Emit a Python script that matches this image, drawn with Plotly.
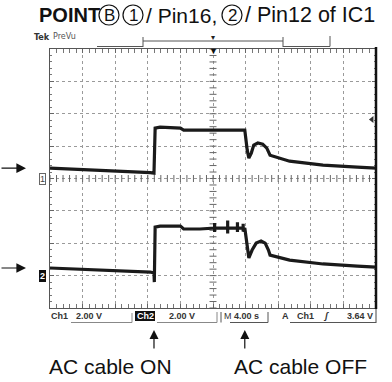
import plotly.graph_objects as go

# ---------------- data ----------------
# time in seconds (4 s/div, 10 div), voltage in volts (2 V/div)
ch1_t = [0, 6.1, 12.3, 12.76, 12.9, 13.5, 15.3, 16.0, 16.4, 18.4, 20.0, 22.1, 23.9,
         24.2, 24.4, 24.7, 25.0, 25.5, 26.1, 26.6, 27.0, 29.4, 33.5, 37.7, 40.0]
ch1_v = [0.64, 0.52, 0.36, 0.33, 3.11, 3.17, 3.14, 3.11, 2.99, 2.99, 3.02, 2.99, 2.99,
         1.75, 1.26, 1.57, 2.06, 2.19, 2.12, 1.88, 1.44, 1.07, 0.83, 0.70, 0.64]

ch2_t = [0, 6.1, 12.3, 12.76, 12.8, 12.9, 13.5, 16.0, 16.4, 18.4, 20.0,
         20.2, 20.2, 20.2, 20.2, 21.8, 21.8, 21.8, 21.8, 23.0, 23.0, 23.0, 23.0,
         23.7, 23.7, 23.7, 23.9,
         24.2, 24.4, 24.8, 25.3, 25.9, 26.4, 26.8, 27.0, 29.4, 33.5, 37.7, 40.0]
ch2_v = [0.47, 0.35, 0.22, 0.16, -0.40, 3.00, 3.06, 3.06, 2.88, 2.88, 2.94,
         2.94, 3.25, 2.70, 2.94, 2.94, 3.40, 2.60, 2.94, 2.94, 3.30, 2.70, 2.94,
         2.94, 3.20, 2.72, 2.94,
         1.70, 1.09, 1.58, 2.01, 2.14, 2.01, 1.58, 1.27, 0.96, 0.72, 0.59, 0.53]

trigger_level = 3.64
status_labels = ["Ch1", "2.00 V", "Ch2", "2.00 V", "M", "4.00 s", "A", "Ch1", "ʃ", "3.64 V"]
event_labels = ["AC cable ON", "AC cable OFF"]

# ---------------- geometry helpers (pixel -> paper) ----------------
W, H = 392, 382
L, R, T, B = 50, 16, 49, 74
PW, PH = W - L - R, H - T - B


def X(px):
    return (px - L) / PW


def Y(py):
    return (H - B - py) / PH


INK = "#1a1a1a"
GRID = "#9a9a9a"
FONT = "Liberation Sans, Arial, sans-serif"

fig = go.Figure()

fig.add_trace(go.Scatter(x=ch1_t, y=ch1_v, mode="lines", yaxis="y",
                         line=dict(color=INK, width=3.2), showlegend=False, hoverinfo="skip"))
fig.add_trace(go.Scatter(x=ch2_t, y=ch2_v, mode="lines", yaxis="y2",
                         line=dict(color=INK, width=3.2), showlegend=False, hoverinfo="skip"))

# centre-line graticule ticks
cx = [i * 0.8 for i in range(51)]
fig.add_trace(go.Scatter(x=cx, y=[0] * len(cx), mode="markers", yaxis="y",
                         marker=dict(symbol="line-ns", size=5, line=dict(color="#666", width=1)),
                         showlegend=False, hoverinfo="skip"))
cy = [-8 + i * 0.4 for i in range(41)]
fig.add_trace(go.Scatter(x=[20] * len(cy), y=cy, mode="markers", yaxis="y",
                         marker=dict(symbol="line-ew", size=5, line=dict(color="#666", width=1)),
                         showlegend=False, hoverinfo="skip"))
# trigger level marker at right edge
fig.add_trace(go.Scatter(x=[39.5], y=[trigger_level], mode="markers", yaxis="y",
                         marker=dict(symbol="triangle-left", size=6, color="#333"),
                         cliponaxis=False, showlegend=False, hoverinfo="skip"))

axis_common = dict(showgrid=True, gridcolor=GRID, griddash="dot", gridwidth=1,
                   zeroline=False, showticklabels=False, ticks="inside", ticklen=4,
                   tickcolor="#666", showline=True, linecolor="#555", linewidth=1,
                   mirror="allticks")

fig.update_layout(
    width=W, height=H,
    margin=dict(l=L, r=R, t=T, b=B, pad=0),
    paper_bgcolor="white", plot_bgcolor="white",
    xaxis=dict(range=[0, 40], dtick=4, tick0=0,
               minor=dict(dtick=0.8, ticks="inside", ticklen=2, tickcolor="#777"),
               **axis_common),
    yaxis=dict(range=[-8, 8], dtick=2, tick0=0,
               minor=dict(dtick=0.4, ticks="inside", ticklen=2, tickcolor="#777"),
               **axis_common),
    yaxis2=dict(range=[-2, 14], overlaying="y", visible=False),
)

shapes = []
ann = []


def pline(x0, y0, x1, y1, w=1, c="#555"):
    shapes.append(dict(type="line", xref="paper", yref="paper",
                       x0=X(x0), y0=Y(y0), x1=X(x1), y1=Y(y1),
                       line=dict(color=c, width=w)))


def text(px, py, s, size=9, color=INK, anchor="left", family=FONT, **kw):
    ann.append(dict(xref="paper", yref="paper", x=X(px), y=Y(py), text=s,
                    showarrow=False, xanchor=anchor, yanchor="middle",
                    font=dict(size=size, color=color, family=family), **kw))


# right thick frame edge
pline(376, 47, 376, 309, w=2.5, c="#111")
pline(376, 309, 376, 323, w=1, c="#444")

# title
text(37, 15, "<b>POINT</b>", size=20, color="#111")
for cxp, lab in [(109, "B"), (133, "1"), (232, "2")]:
    shapes.append(dict(type="circle", xref="paper", yref="paper",
                       x0=X(cxp - 10), x1=X(cxp + 10), y0=Y(5), y1=Y(25),
                       line=dict(color="#111", width=1.2)))
    text(cxp, 15.5, lab, size=17, color="#111", anchor="center")
text(144, 15, "/ Pin16,", size=21, color="#111")
text(243, 15, "/ Pin12 of IC1", size=21.5, color="#111")

# Tek PreVu header
text(32, 37, "<b>Tek</b>", size=9, color="#333", family="DejaVu Sans Condensed, DejaVu Sans")
text(51, 36.5, "PreVu", size=8, color="#555", family="DejaVu Sans")
pline(97, 46.5, 143, 46.5)
pline(283, 46.5, 330, 46.5)
pline(143, 37, 143, 47)
pline(283, 37, 283, 47)
pline(143, 41, 283, 41)
pline(330, 36, 330, 46.5)
text(213, 37.5, "▾", size=8, color="#222", anchor="center")
text(213, 51.5, "▼", size=9, color="#111", anchor="center")

# channel ground markers
ann.append(dict(xref="paper", yref="y", x=X(42), y=0, text="1", showarrow=False,
                font=dict(size=9, color="#444", family=FONT), bgcolor="white",
                bordercolor="#666", borderwidth=1, borderpad=0, xanchor="center"))
ann.append(dict(xref="paper", yref="y2", x=X(42), y=0, text="<b>2</b>", showarrow=False,
                font=dict(size=9, color="white", family=FONT), bgcolor="#111",
                bordercolor="#111", borderwidth=1, borderpad=0, xanchor="center"))

# left arrows pointing at the traces
for yr, v in [("y", ch1_v[0]), ("y2", ch2_v[0])]:
    ann.append(dict(xref="paper", yref=yr, x=X(26), y=v, text="", showarrow=True,
                    ax=-26, ay=0, arrowhead=2, arrowsize=1.6, arrowwidth=1.2,
                    arrowcolor="#111"))

# status bar
sy = 316
text(49, sy, "<b>" + status_labels[0] + "</b>", size=9, color="#333")
text(74, sy, "<b>" + status_labels[1] + "</b>", size=9, color="#333")
pline(71, 322.5, 132, 322.5, c="#888")
pline(132, 313, 132, 322.5, c="#888")
shapes.append(dict(type="rect", xref="paper", yref="paper", x0=X(135), x1=X(155),
                   y0=Y(321), y1=Y(311), fillcolor="#111", line=dict(width=0)))
text(145, sy, "<b>" + status_labels[2] + "</b>", size=9, color="white", anchor="center")
text(167, sy, "<b>" + status_labels[3] + "</b>", size=9, color="#333")
pline(157, 322.5, 217, 322.5, c="#888")
pline(217, 312, 217, 322.5, c="#888")
pline(221, 312, 221, 322.5, c="#555")
text(222, sy, status_labels[4], size=9, color="#333")
text(232, sy, "<b>" + status_labels[5] + "</b>", size=9, color="#333")
pline(230, 322.5, 268, 322.5, c="#555")
pline(268, 312, 268, 322.5, c="#555")
text(280, sy, "<b>" + status_labels[6] + "</b>", size=9, color="#333")
text(295, sy, "<b>" + status_labels[7] + "</b>", size=9, color="#333")
text(326, sy, "<i><b>" + status_labels[8] + "</b></i>", size=9, color="#333", anchor="center")
text(375, sy, "<b>" + status_labels[9] + "</b>", size=9, color="#333", anchor="right")
pline(290, 322.5, 376, 322.5, c="#555")

# event arrows and labels
for xt, lab, cxl in [(ch1_t[3], event_labels[0], 110), (ch1_t[12], event_labels[1], 300)]:
    ann.append(dict(xref="x", yref="paper", x=xt, y=Y(330), text="", showarrow=True,
                    ax=0, ay=20, arrowhead=2, arrowsize=1.5, arrowwidth=1.2,
                    arrowcolor="#111"))
    text(cxl, 366, lab, size=21, color="#111", anchor="center")

fig.update_layout(shapes=shapes, annotations=ann)
fig.write_html("out.html", config={"displayModeBar": False, "staticPlot": True},
               post_script="document.body.style.margin='0';document.body.style.padding='0';")
